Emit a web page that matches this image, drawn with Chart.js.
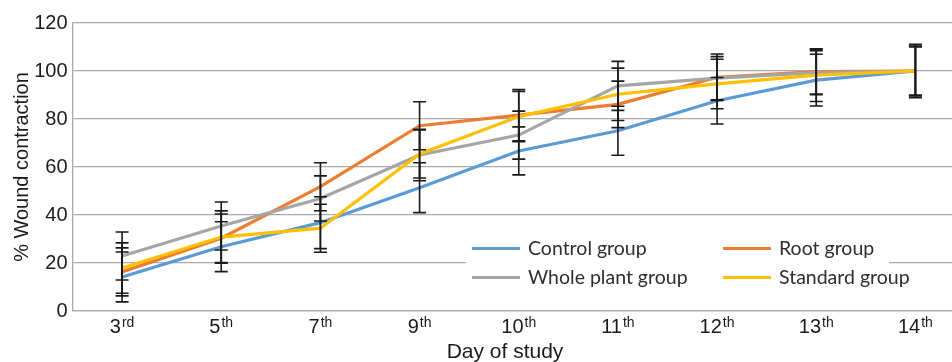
<!DOCTYPE html>
<html><head><meta charset="utf-8">
<script src="https://cdn.jsdelivr.net/npm/chart.js@4.4.1/dist/chart.umd.min.js"></script>
<style>
html,body{margin:0;padding:0;background:#fff;overflow:hidden}
#wrap{position:relative;width:965px;height:362px}
</style>
</head><body>
<div id="wrap"><canvas id="c"></canvas></div>
<script>
// ---- data ----
const days = ['3rd','5th','7th','9th','10th','11th','12th','13th','14th'];
const yTicks = [0, 20, 40, 60, 80, 100, 120];
const seriesNames = ['Control group', 'Root group', 'Whole plant group', 'Standard group'];
const control     = [14.2, 26.8, 36.8, 51.4, 66.7, 75.1, 87.6, 96.2, 100];
const controlErr  = [10.4, 10.4, 10.8, 10.4, 10.0, 10.2, 9.7, 10.8, 10.3];
const root        = [16.3, 30.3, 51.8, 77.2, 81.6, 86.1, 97.4, 99.7, 100];
const rootErr     = [10.0, 10.1, 10.0, 10.0, 10.7, 9.7, 9.7, 9.3, 11.1];
const whole       = [22.9, 35.4, 46.9, 65.0, 73.3, 93.8, 97.0, 99.3, 100];
const wholeErr    = [10.0, 10.0, 9.4, 10.7, 10.0, 10.2, 9.0, 9.2, 10.0];
const standard    = [17.9, 30.8, 34.5, 65.4, 81.0, 90.3, 94.6, 98.3, 100];
const standardErr = [10.5, 10.9, 10.0, 10.0, 10.5, 10.9, 10.3, 11.0, 10.3];

const colors = ['#5B9BD5', '#ED7D31', '#A5A5A5', '#FFC000'];
const values = [control, root, whole, standard];
const errors = [controlErr, rootErr, wholeErr, standardErr];
const FONT = '"Liberation Sans", Arial, sans-serif';
const GRID = '#aaaaaa';
const INK = '#1a1a1a';

const datasets = seriesNames.map((n, i) => ({
  label: n,
  data: values[i],
  err: errors[i],
  borderColor: colors[i],
  backgroundColor: colors[i],
  borderWidth: 3.2,
  pointRadius: 0,
  tension: 0,
  fill: false,
  order: 4 - i
}));

const errorBarPlugin = {
  id: 'errorBars',
  afterDatasetsDraw(chart) {
    const ctx = chart.ctx, ys = chart.scales.y;
    ctx.save();
    ctx.strokeStyle = INK;
    ctx.lineWidth = 1.6;
    chart.data.datasets.forEach((ds, di) => {
      const meta = chart.getDatasetMeta(di);
      meta.data.forEach((pt, j) => {
        const v = ds.data[j], e = ds.err[j];
        const x = pt.x, yt = ys.getPixelForValue(v + e), yb = ys.getPixelForValue(v - e);
        ctx.beginPath();
        ctx.moveTo(x, yt); ctx.lineTo(x, yb);
        ctx.moveTo(x - 6.5, yt); ctx.lineTo(x + 6.5, yt);
        ctx.moveTo(x - 6.5, yb); ctx.lineTo(x + 6.5, yb);
        ctx.stroke();
      });
    });
    ctx.restore();
  }
};

const labelsPlugin = {
  id: 'supLabels',
  afterDraw(chart) {
    const ctx = chart.ctx, xs = chart.scales.x;
    ctx.save();
    ctx.fillStyle = INK;
    ctx.textBaseline = 'alphabetic';
    ctx.textAlign = 'left';
    chart.data.labels.forEach((lab, i) => {
      const m = lab.match(/^(\d+)(\D*)$/);
      const x = xs.getPixelForValue(i);
      ctx.font = '20px ' + FONT;
      const w1 = ctx.measureText(m[1]).width;
      ctx.font = '14px ' + FONT;
      const w2 = ctx.measureText(m[2]).width;
      const gap = 1;
      const start = x - (w1 + gap + w2) / 2;
      ctx.font = '20px ' + FONT;
      ctx.fillText(m[1], start, 333);
      ctx.font = '14px ' + FONT;
      ctx.fillText(m[2], start + w1 + gap, 327);
    });
    // x axis title
    ctx.font = '21px ' + FONT;
    ctx.textAlign = 'center';
    ctx.fillText('Day of study', 505, 358);
    ctx.restore();
  }
};

const legendPlugin = {
  id: 'boxLegend',
  afterDraw(chart) {
    const ctx = chart.ctx;
    ctx.save();
    ctx.fillStyle = '#ffffff';
    ctx.fillRect(466, 230, 423, 66);
    const cols = [472, 723], rows = [248.5, 277.5];
    ctx.font = '19.5px Lato, "Open Sans", sans-serif';
    ctx.textBaseline = 'middle';
    ctx.textAlign = 'left';
    chart.data.datasets.forEach((ds, i) => {
      const cx = cols[i % 2], cy = rows[Math.floor(i / 2)];
      ctx.strokeStyle = ds.borderColor;
      ctx.lineWidth = 3;
      ctx.beginPath();
      ctx.moveTo(cx, cy); ctx.lineTo(cx + 48, cy);
      ctx.stroke();
      ctx.fillStyle = '#2e2e2e';
      ctx.fillText(ds.label, cx + 56, cy);
    });
    ctx.restore();
  }
};

new Chart(document.getElementById('c'), {
  type: 'line',
  data: { labels: days, datasets },
  plugins: [errorBarPlugin, labelsPlugin, legendPlugin],
  options: {
    responsive: true,
    maintainAspectRatio: false,
    animation: false,
    layout: { padding: { top: 23, right: 0, bottom: 0, left: 0 } },
    plugins: { legend: { display: false }, tooltip: { enabled: false } },
    scales: {
      x: {
        type: 'category',
        offset: true,
        ticks: { display: false },
        grid: { display: false, drawTicks: false },
        border: { display: true, color: GRID, width: 1.3 },
        afterFit(s) { s.height = 51; }
      },
      y: {
        min: 0, max: 120,
        afterBuildTicks(s) { s.ticks = yTicks.map(v => ({ value: v })); },
        ticks: { font: { family: FONT, size: 20 }, color: INK, padding: 5 },
        grid: { color: GRID, lineWidth: 1.3, drawTicks: false },
        border: { display: true, color: GRID, width: 1.3 },
        title: { display: true, text: '% Wound contraction', color: INK,
                 font: { family: FONT, size: 20 }, padding: { top: 10, bottom: 0 } },
        afterFit(s) { s.width = 72.5; }
      }
    }
  }
});
</script>
</body></html>
